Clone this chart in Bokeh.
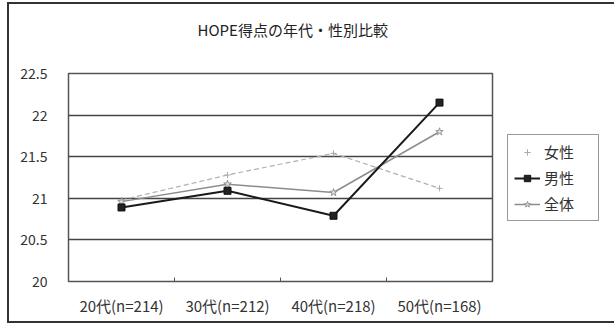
from bokeh.plotting import figure
from bokeh.models import FixedTicker, Range1d, Legend, LegendItem, Title
from bokeh.embed import file_html
from bokeh.resources import INLINE

title = "HOPE得点の年代・性別比較"
categories = ["20代(n=214)", "30代(n=212)", "40代(n=218)", "50代(n=168)"]
female = [20.98, 21.28, 21.54, 21.12]
male = [20.89, 21.09, 20.79, 22.15]
total = [20.96, 21.17, 21.07, 21.80]
y_ticks = [20, 20.5, 21, 21.5, 22, 22.5]
y_labels = ["20", "20.5", "21", "21.5", "22", "22.5"]

x = list(range(len(categories)))
FONT = "Noto Sans CJK JP"

p = figure(frame_width=424, frame_height=208, output_backend="svg", toolbar_location=None,
           x_range=Range1d(-0.5, len(categories) - 0.5), y_range=Range1d(20, 22.5),
           min_border_left=59, min_border_right=113, min_border_top=69, min_border_bottom=40,
           title=None)
p.styles = {"border": "2px solid #333", "margin-left": "7px", "margin-top": "2px"}

# spacer panel between frame and title
spacer = Title(text=" ", text_font_size="1px", standoff=26)
p.add_layout(spacer, "above")
main_title = Title(text=title, text_font=FONT, text_font_size="15px", text_font_style="normal",
                   text_color="#222", align="left", offset=129, standoff=10)
p.add_layout(main_title, "above")

p.outline_line_color = "#555"
p.outline_line_width = 1.5
p.background_fill_color = "white"
p.border_fill_color = "white"

p.xgrid.grid_line_color = None
p.ygrid.grid_line_color = "#444444"
p.ygrid.grid_line_width = 1.4

p.xaxis.ticker = FixedTicker(ticks=x, minor_ticks=[i + 0.5 for i in x[:-1]])
p.xaxis.major_label_overrides = {i: c for i, c in zip(x, categories)}
p.xaxis.major_tick_line_color = None
p.xaxis.minor_tick_in = 4
p.xaxis.minor_tick_out = 0
p.xaxis.minor_tick_line_color = "#555"
p.xaxis.axis_line_color = None
p.xaxis.major_label_text_font = FONT
p.xaxis.major_label_text_font_size = "15px"
p.xaxis.major_label_text_color = "#333"
p.xaxis.major_label_standoff = 7

p.yaxis.ticker = FixedTicker(ticks=y_ticks)
p.yaxis.major_label_overrides = {t: l for t, l in zip(y_ticks, y_labels)}
p.yaxis.major_tick_line_color = None
p.yaxis.minor_tick_line_color = None
p.yaxis.axis_line_color = None
p.yaxis.major_label_text_font = FONT
p.yaxis.major_label_text_font_size = "14px"
p.yaxis.major_label_text_color = "#333"
p.yaxis.major_label_standoff = 15

# 女性
fl = p.line(x, female, line_color="#b0b0b0", line_width=1.2, line_dash="5 3")
fm = p.scatter(x, female, marker="cross", size=6, line_color="#aaaaaa", line_width=1)
# 全体
tl = p.line(x, total, line_color="#8c8c8c", line_width=1.5)
tm = p.scatter(x, total, marker="star", size=8, line_color="#999999", fill_color="#dddddd")
# 男性
ml = p.line(x, male, line_color="#1a1a1a", line_width=2)
mm = p.scatter(x, male, marker="square", size=7, line_color="#111111", fill_color="#222222")

legend = Legend(items=[
    LegendItem(label="女性", renderers=[fm]),
    LegendItem(label="男性", renderers=[ml, mm]),
    LegendItem(label="全体", renderers=[tl, tm]),
], location=(15, 60))
legend.label_text_font = FONT
legend.label_text_font_size = "15px"
legend.label_text_color = "#333"
legend.border_line_color = "#333"
legend.border_line_width = 1.2
legend.padding = 6
legend.spacing = 5
legend.glyph_width = 26
legend.glyph_height = 16
legend.label_height = 16
legend.label_width = 48
legend.label_standoff = 4
legend.margin = 0
legend.background_fill_alpha = 1
p.add_layout(legend, "right")

open("out.html", "w").write(file_html(p, INLINE))
